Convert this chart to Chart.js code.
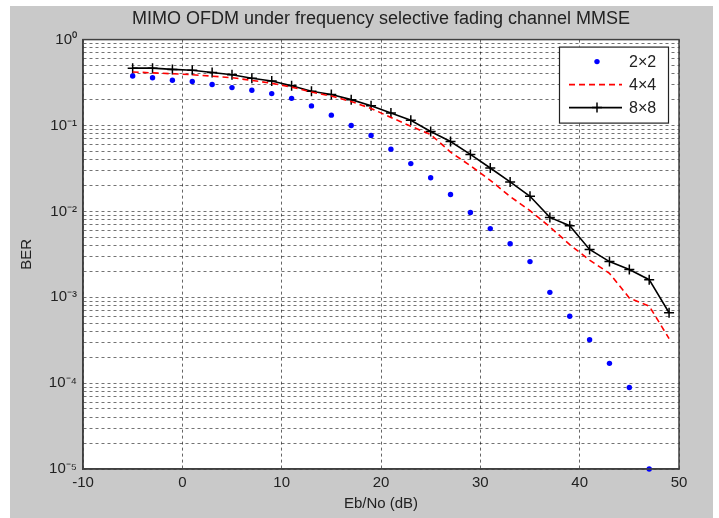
<!DOCTYPE html>
<html>
<head>
<meta charset="utf-8">
<title>MIMO OFDM BER</title>
<script src="https://cdn.jsdelivr.net/npm/chart.js@4.4.1/dist/chart.umd.min.js"></script>
<style>
  html, body { margin: 0; padding: 0; background: #fff; }
  #wrap { position: relative; width: 719px; height: 518px; }
</style>
</head>
<body>
<div id="wrap"><canvas id="berChart" width="719" height="518"></canvas></div>
<script>
// --- data ---
const ebno = [-5, -3, -1, 1, 3, 5, 7, 9, 11, 13, 15, 17, 19, 21, 23, 25, 27, 29, 31, 33, 35, 37, 39, 41, 43, 45, 47, 49];
const ber2x2 = [0.377, 0.36, 0.336, 0.325, 0.30, 0.276, 0.257, 0.235, 0.207, 0.169, 0.132, 0.10, 0.0766, 0.053, 0.036, 0.0246, 0.0157, 0.0097, 0.0063, 0.0042, 0.0026, 0.00114, 0.0006, 0.00032, 0.00017, 0.000089, 0.00001, null];
const ber4x4 = [0.42, 0.41, 0.40, 0.39, 0.375, 0.36, 0.335, 0.31, 0.28, 0.245, 0.22, 0.19, 0.158, 0.124, 0.098, 0.0785, 0.049, 0.034, 0.023, 0.0149, 0.0102, 0.0066, 0.0041, 0.0027, 0.0019, 0.00098, 0.00079, 0.00033];
const ber8x8 = [0.465, 0.465, 0.45, 0.44, 0.414, 0.39, 0.355, 0.33, 0.29, 0.25, 0.23, 0.20, 0.17, 0.14, 0.115, 0.085, 0.065, 0.046, 0.032, 0.022, 0.015, 0.0085, 0.0068, 0.0036, 0.0026, 0.0021, 0.0016, 0.00066];
const seriesNames = ['2\u00d72', '4\u00d74', '8\u00d78'];

const xTicks = [-10, 0, 10, 20, 30, 40, 50];
const yDecades = [1e-5, 1e-4, 1e-3, 1e-2, 1e-1, 1];
const yTickLabels = ['10\u207b\u2075', '10\u207b\u2074', '10\u207b\u00b3', '10\u207b\u00b2', '10\u207b\u00b9', '10\u2070'];

const FONT = '"Liberation Sans", Arial, sans-serif';
Chart.defaults.font.family = FONT;
Chart.defaults.color = '#222';

function toPoints(ys) {
    return ebno.map((x, i) => ({ x: x, y: ys[i] })).filter(p => p.y !== null);
}

// grey figure + white axes background
const figureBg = {
    id: 'figureBg',
    beforeDraw(chart) {
        const { ctx, chartArea: a } = chart;
        ctx.save();
        ctx.fillStyle = '#fff';
        ctx.fillRect(0, 0, chart.width, chart.height);
        ctx.fillStyle = '#c9c9c9';
        ctx.fillRect(10, 6, 703, 512);
        ctx.fillStyle = '#fff';
        ctx.fillRect(a.left, a.top, a.right - a.left, a.bottom - a.top);
        ctx.restore();
    }
};

// box round the axes (matlab style)
const axesFrame = {
    id: 'axesFrame',
    afterDatasetsDraw(chart) {
        const { ctx, chartArea: a } = chart;
        ctx.save();
        ctx.strokeStyle = '#404040';
        ctx.lineWidth = 1.5;
        ctx.strokeRect(a.left, a.top, a.right - a.left, a.bottom - a.top);
        ctx.restore();
    }
};

// legend box in the top right corner
const boxLegend = {
    id: 'boxLegend',
    afterDraw(chart) {
        const { ctx, chartArea: a } = chart;
        const bx = a.right - 120, by = a.top + 7, bw = 109, bh = 76;
        ctx.save();
        ctx.fillStyle = '#fff';
        ctx.fillRect(bx, by, bw, bh);
        ctx.strokeStyle = '#222';
        ctx.lineWidth = 1.2;
        ctx.strokeRect(bx + 0.5, by + 0.5, bw, bh);
        chart.data.datasets.forEach((ds, i) => {
            const y = by + 15 + i * 23;
            const x0 = bx + 10, x1 = bx + 63, xm = bx + 38;
            if (ds.showLine !== false) {
                ctx.beginPath();
                ctx.setLineDash(ds.borderDash || []);
                ctx.strokeStyle = ds.borderColor;
                ctx.lineWidth = ds.borderWidth;
                ctx.moveTo(x0, y);
                ctx.lineTo(x1, y);
                ctx.stroke();
                ctx.setLineDash([]);
            }
            if (ds.pointRadius > 0) {
                if (ds.pointStyle === 'cross') {
                    ctx.beginPath();
                    ctx.strokeStyle = ds.pointBorderColor;
                    ctx.lineWidth = ds.pointBorderWidth;
                    ctx.moveTo(xm - ds.pointRadius, y); ctx.lineTo(xm + ds.pointRadius, y);
                    ctx.moveTo(xm, y - ds.pointRadius); ctx.lineTo(xm, y + ds.pointRadius);
                    ctx.stroke();
                } else {
                    ctx.beginPath();
                    ctx.fillStyle = ds.pointBackgroundColor;
                    ctx.arc(xm, y, ds.pointRadius, 0, Math.PI * 2);
                    ctx.fill();
                }
            }
            ctx.fillStyle = '#222';
            ctx.font = '16px ' + FONT;
            ctx.textBaseline = 'middle';
            ctx.textAlign = 'left';
            ctx.fillText(ds.label, bx + 70, y + 1);
        });
        ctx.restore();
    }
};

new Chart(document.getElementById('berChart'), {
    type: 'line',
    data: {
        datasets: [
            {
                label: seriesNames[0], data: toPoints(ber2x2), showLine: false,
                pointRadius: 2.7, pointBackgroundColor: '#0000ff', pointBorderColor: '#0000ff',
                borderColor: '#0000ff', backgroundColor: '#0000ff', pointBorderWidth: 0, clip: false
            },
            {
                label: seriesNames[1], data: toPoints(ber4x4), borderColor: '#ff0000',
                borderWidth: 1.6, borderDash: [6, 4], pointRadius: 0, fill: false, tension: 0
            },
            {
                label: seriesNames[2], data: toPoints(ber8x8), borderColor: '#000',
                borderWidth: 1.6, pointStyle: 'cross', pointRadius: 5, pointBorderWidth: 1.5,
                pointBorderColor: '#000', fill: false, tension: 0
            }
        ]
    },
    options: {
        responsive: false,
        animation: false,
        layout: { padding: { left: 0, right: 40, top: 0, bottom: 0 } },
        plugins: {
            legend: { display: false },
            tooltip: { enabled: false },
            title: {
                display: true,
                fullSize: false,
                text: 'MIMO OFDM under frequency selective fading channel MMSE',
                color: '#222',
                font: { size: 18, weight: 'normal' },
                padding: { top: 8, bottom: 10 }
            }
        },
        scales: {
            x: {
                type: 'linear', min: -10, max: 50,
                afterBuildTicks: s => { s.ticks = xTicks.map(v => ({ value: v })); },
                afterFit: s => { s.height = 49; },
                ticks: { font: { size: 15 }, color: '#222', padding: 5, autoSkip: false },
                grid: { color: 'rgba(0,0,0,0.6)', lineWidth: 1, drawTicks: false },
                border: { display: true, color: '#404040', width: 1.5, dash: [3, 3] },
                title: { display: true, text: 'Eb/No (dB)', font: { size: 15 }, color: '#222', padding: { top: 0, bottom: 5 } }
            },
            y: {
                type: 'logarithmic', min: 1e-5, max: 1,
                afterBuildTicks: s => {
                    const t = [];
                    yDecades.forEach((d, i) => {
                        if (i === yDecades.length - 1) { t.push({ value: d }); return; }
                        for (let m = 1; m <= 9; m++) t.push({ value: d * m });
                    });
                    s.ticks = t;
                },
                afterFit: s => { s.width = 83; },
                ticks: {
                    font: { size: 15 }, color: '#222', padding: 6, autoSkip: false,
                    callback: v => {
                        const i = yDecades.findIndex(d => Math.abs(Math.log10(d) - Math.log10(v)) < 1e-6);
                        return i >= 0 ? yTickLabels[i] : '';
                    }
                },
                grid: { color: 'rgba(0,0,0,0.55)', lineWidth: 1, drawTicks: false },
                border: { display: true, color: '#404040', width: 1.5, dash: [3, 3] },
                title: { display: true, text: 'BER', font: { size: 15 }, color: '#222', padding: { top: 18, bottom: 0 } }
            }
        }
    },
    plugins: [figureBg, axesFrame, boxLegend]
});
</script>
</body>
</html>
